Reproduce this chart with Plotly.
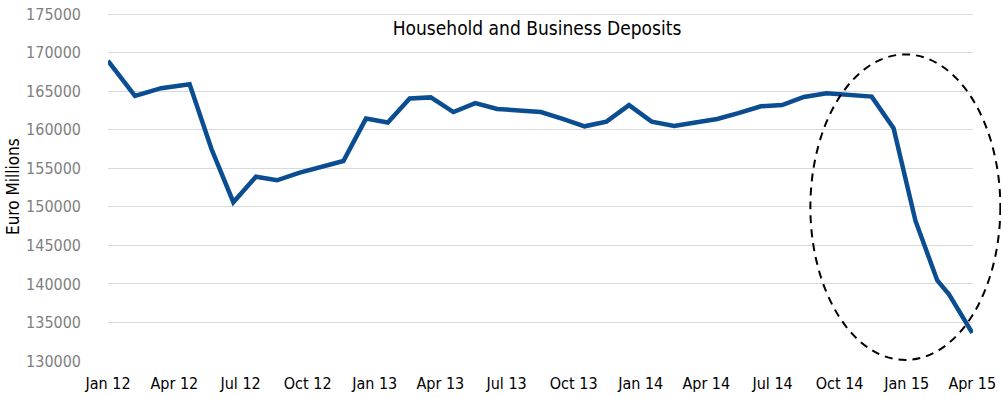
import plotly.graph_objects as go

dates = [
    "2012-01-01", "2012-02-07", "2012-03-14", "2012-04-22", "2012-05-22", "2012-06-21",
    "2012-07-22", "2012-08-20", "2012-09-19", "2012-10-21", "2012-11-19", "2012-12-20",
    "2013-01-19", "2013-02-18", "2013-03-19", "2013-04-19", "2013-05-19", "2013-06-18",
    "2013-07-17", "2013-08-17", "2013-09-16", "2013-10-16", "2013-11-15", "2013-12-16",
    "2014-01-16", "2014-02-16", "2014-03-17", "2014-04-16", "2014-05-15", "2014-06-15",
    "2014-07-14", "2014-08-13", "2014-09-13", "2014-10-14", "2014-11-14", "2014-12-14",
    "2015-01-13", "2015-02-12", "2015-02-28", "2015-04-01",
]
deposits = [
    168950, 164400, 165400, 165900, 157500, 150600,
    153900, 153450, 154400, 155250, 155950, 161450,
    160950, 164050, 164200, 162300, 163450, 162700,
    162450, 162300, 161400, 160450, 161050, 163200,
    161050, 160500, 160950, 161400, 162150, 163050,
    163200, 164250, 164750, 164550, 164300, 160200,
    148200, 140450, 138650, 133650,
]

title_text = "Household and Business Deposits"
y_title = "Euro Millions"

FONT = "Liberation Sans Narrow, DejaVu Sans Condensed, Roboto Condensed, Roboto, sans-serif"

W, H = 1001, 398
L, R, T, B = 108, 28, 13, 37

fig = go.Figure()
fig.add_trace(go.Scatter(
    x=dates, y=deposits, mode="lines",
    line=dict(color="#0b4d91", width=4.5),
    hoverinfo="skip", showlegend=False,
))

fig.update_layout(
    width=W, height=H,
    margin=dict(l=L, r=R, t=T, b=B, autoexpand=False),
    paper_bgcolor="white", plot_bgcolor="white",
    title=dict(text=title_text, x=537 / W, xanchor="center",
               y=1 - 28 / H, yanchor="middle",
               font=dict(family=FONT, size=19, color="black")),
    xaxis=dict(
        type="date", range=["2012-01-01", "2015-04-02"], automargin=False,
        tick0="2012-01-01", dtick="M3", tickformat="%b %y",
        showgrid=False, zeroline=False, showline=False, ticks="",
        ticklabelstandoff=11, ticklabeloverflow="allow",
        tickfont=dict(family=FONT, size=16, color="black"),
    ),
    yaxis=dict(
        range=[130000, 175150], tick0=130000, dtick=5000, tickformat="d",
        automargin=False,
        showgrid=True, gridcolor="#d9d9d9", gridwidth=1.3,
        zeroline=False, showline=False, ticks="",
        ticklabelstandoff=26, ticklabeloverflow="allow",
        tickfont=dict(family=FONT, size=16, color="#7f7f7f"),
    ),
    annotations=[dict(
        text=y_title, textangle=-90, xref="paper", yref="paper",
        x=0, y=0.5, xanchor="center", yanchor="middle", xshift=-(L - 13),
        showarrow=False, font=dict(family=FONT, size=17, color="black"),
    )],
    shapes=[dict(
        type="circle", xref="paper", yref="paper",
        x0=0.812, x1=1.0316, y0=0.003, y1=0.881,
        line=dict(color="black", width=2, dash="8px,6px"),
        fillcolor="rgba(0,0,0,0)", layer="above",
    )],
)

fig.write_html(
    "out.html",
    config={"displayModeBar": False},
    post_script="document.body.style.margin='0';document.body.style.overflow='hidden';",
)
